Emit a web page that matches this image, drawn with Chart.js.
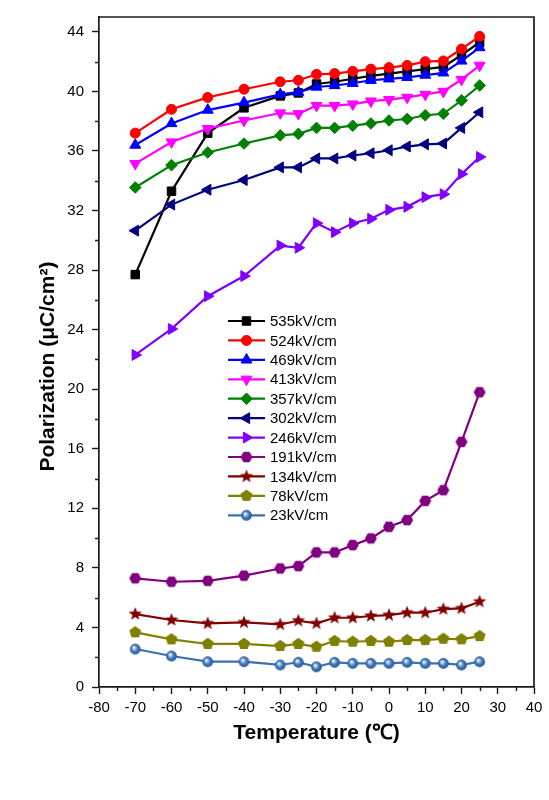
<!DOCTYPE html>
<html><head><meta charset="utf-8">
<script src="https://cdn.jsdelivr.net/npm/chart.js@4/dist/chart.umd.min.js"></script>
<style>html,body{margin:0;padding:0;background:#fff}#wrap{width:549px;height:800px}</style>
</head><body><div id="wrap"><canvas id="c" width="549" height="800"></canvas></div>
<script>
// ---- data ----
const temperatures = [-70, -60, -50, -40, -30, -25, -20, -15, -10, -5, 0, 5, 10, 15, 20, 25];
const seriesLabels = ['535kV/cm','524kV/cm','469kV/cm','413kV/cm','357kV/cm','302kV/cm','246kV/cm','191kV/cm','134kV/cm','78kV/cm','23kV/cm'];
const p535 = [27.7, 33.3, 37.2, 38.9, 39.7, 39.9, 40.5, 40.65, 40.85, 41.05, 41.2, 41.35, 41.5, 41.65, 42.45, 43.3];
const p524 = [37.2, 38.8, 39.6, 40.15, 40.65, 40.75, 41.15, 41.2, 41.35, 41.5, 41.6, 41.75, 42.0, 42.05, 42.85, 43.7];
const p469 = [36.4, 37.85, 38.75, 39.25, 39.8, 39.95, 40.3, 40.4, 40.55, 40.75, 40.85, 40.95, 41.1, 41.25, 42.05, 42.95];
const p413 = [35.15, 36.6, 37.5, 38.05, 38.55, 38.5, 39.05, 39.05, 39.15, 39.35, 39.45, 39.6, 39.8, 40.0, 40.8, 41.75];
const p357 = [33.55, 35.05, 35.9, 36.5, 37.05, 37.15, 37.55, 37.55, 37.7, 37.85, 38.05, 38.15, 38.4, 38.5, 39.4, 40.4];
const p302 = [30.65, 32.4, 33.4, 34.05, 34.9, 34.9, 35.5, 35.5, 35.7, 35.85, 36.05, 36.3, 36.45, 36.5, 37.55, 38.6];
const p246 = [22.3, 24.05, 26.25, 27.6, 29.65, 29.5, 31.15, 30.55, 31.15, 31.45, 32.05, 32.25, 32.9, 33.1, 34.45, 35.6];
const p191 = [7.3, 7.07, 7.13, 7.48, 7.96, 8.12, 9.04, 9.04, 9.53, 9.98, 10.76, 11.21, 12.5, 13.22, 16.46, 19.8];
const p134 = [4.9, 4.5, 4.27, 4.34, 4.2, 4.45, 4.27, 4.65, 4.65, 4.77, 4.83, 4.99, 4.99, 5.23, 5.28, 5.73];
const p78  = [3.67, 3.2, 2.89, 2.89, 2.75, 2.89, 2.7, 3.09, 3.04, 3.09, 3.04, 3.15, 3.15, 3.24, 3.2, 3.42];
const p23  = [2.55, 2.08, 1.7, 1.7, 1.48, 1.66, 1.36, 1.66, 1.59, 1.59, 1.59, 1.66, 1.59, 1.59, 1.48, 1.7];
const xTickValues = [-80, -70, -60, -50, -40, -30, -20, -10, 0, 10, 20, 30, 40];
const yTickValues = [0, 4, 8, 12, 16, 20, 24, 28, 32, 36, 40, 44];
const xTitle = 'Temperature (\u2103)';
const yTitle = 'Polarization (\u03BCC/cm\u00B2)';

const allSeries = [p535, p524, p469, p413, p357, p302, p246, p191, p134, p78, p23];

// ---- marker images ----
function mk(size, fn) {
  const c = document.createElement('canvas'); c.width = c.height = size;
  const g = c.getContext('2d'); fn(g, size / 2); return c;
}
function poly(g, cx, n, r, rot, inner) {
  g.beginPath();
  const pts = inner ? n * 2 : n;
  for (let i = 0; i < pts; i++) {
    const rr = inner ? (i % 2 ? inner : r) : r;
    const a = rot + i * 2 * Math.PI / pts;
    const x = cx + rr * Math.sin(a), y = cx - rr * Math.cos(a);
    i ? g.lineTo(x, y) : g.moveTo(x, y);
  }
  g.closePath();
}
const hexImg = mk(14, (g, c) => { poly(g, c, 6, 6, Math.PI / 6); g.fillStyle = '#800080'; g.fill(); });
const starImg = mk(16, (g, c) => { poly(g, c, 5, 7, 0, 3); g.fillStyle = '#800000'; g.fill(); });
const pentImg = mk(14, (g, c) => { poly(g, c, 5, 6.3, 0); g.fillStyle = '#808000'; g.fill(); });
const sphereImg = mk(13, (g, c) => {
  const gr = g.createRadialGradient(c - 1.5, c - 1.6, 0.3, c, c, 5.6);
  gr.addColorStop(0, '#ffffff'); gr.addColorStop(0.3, '#8fb2dd'); gr.addColorStop(0.6, '#3a6fb0'); gr.addColorStop(1, '#2b5d9c');
  g.beginPath(); g.arc(c, c, 5.4, 0, Math.PI * 2); g.fillStyle = gr; g.fill();
});

const styles = [
  {color: '#000000', ps: 'rect', r: 6, rot: 0},
  {color: '#ff0000', ps: 'circle', r: 5, rot: 0},
  {color: '#0000ff', ps: 'triangle', r: 6.3, rot: 0},
  {color: '#ff00ff', ps: 'triangle', r: 6.3, rot: 180},
  {color: '#008000', ps: 'rectRot', r: 5.8, rot: 0},
  {color: '#000080', ps: 'triangle', r: 6.3, rot: 270},
  {color: '#8000ff', ps: 'triangle', r: 6.3, rot: 90},
  {color: '#800080', ps: hexImg, r: 6, rot: 0},
  {color: '#800000', ps: starImg, r: 6, rot: 0},
  {color: '#808000', ps: pentImg, r: 6, rot: 0},
  {color: '#3a6fb0', ps: sphereImg, r: 6, rot: 0}
];

const datasets = allSeries.map((arr, i) => ({
  label: seriesLabels[i],
  data: arr.map((v, j) => ({x: temperatures[j], y: v})),
  order: allSeries.length - i,
  borderColor: styles[i].color,
  backgroundColor: styles[i].color,
  borderWidth: 2.2,
  pointStyle: styles[i].ps,
  pointRadius: styles[i].r,
  pointRotation: styles[i].rot,
  pointBorderWidth: 1,
  pointBorderColor: styles[i].color,
  pointBackgroundColor: styles[i].color,
  tension: 0,
  clip: false
}));

const AX = '#1a1a1a';
const FONT = '"Liberation Sans", Arial, sans-serif';

const framePlugin = {
  id: 'frame',
  afterDraw(chart) {
    const {ctx, chartArea: a, scales} = chart;
    ctx.save();
    ctx.strokeStyle = AX; ctx.lineWidth = 1.7;
    ctx.beginPath();
    ctx.moveTo(a.left, a.top); ctx.lineTo(a.right, a.top); ctx.lineTo(a.right, a.bottom);
    ctx.stroke();
    // minor ticks
    ctx.lineWidth = 1.4;
    ctx.beginPath();
    for (let v = -75; v < 40; v += 10) {
      const px = Math.round(scales.x.getPixelForValue(v)) + 0.5;
      ctx.moveTo(px, a.bottom); ctx.lineTo(px, a.bottom + 4);
    }
    for (let v = 2; v < 45; v += 4) {
      const py = Math.round(scales.y.getPixelForValue(v)) + 0.5;
      ctx.moveTo(a.left, py); ctx.lineTo(a.left - 4, py);
    }
    ctx.stroke();
    // legend
    const lx0 = 228, lx1 = 265, tx = 270, y0 = 321, dy = 19.43;
    ctx.font = '15px ' + FONT;
    ctx.textBaseline = 'middle'; ctx.textAlign = 'left';
    chart.data.datasets.forEach((ds, i) => {
      const y = y0 + i * dy;
      ctx.strokeStyle = ds.borderColor; ctx.lineWidth = 2.2;
      ctx.beginPath(); ctx.moveTo(lx0, y); ctx.lineTo(lx1, y); ctx.stroke();
      ctx.fillStyle = ds.backgroundColor; ctx.strokeStyle = ds.borderColor; ctx.lineWidth = 1;
      Chart.helpers.drawPoint(ctx, {pointStyle: ds.pointStyle, rotation: ds.pointRotation, radius: ds.pointRadius, borderWidth: 1}, (lx0 + lx1) / 2, y);
      ctx.fillStyle = '#000';
      ctx.fillText(ds.label, tx, y + 1);
    });
    ctx.restore();
  }
};

new Chart(document.getElementById('c'), {
  type: 'line',
  data: {datasets},
  plugins: [framePlugin],
  options: {
    responsive: false,
    devicePixelRatio: 1,
    animation: false,
    layout: {padding: {top: 15, right: 15, left: 0, bottom: 0}},
    plugins: {legend: {display: false}, tooltip: {enabled: false}},
    scales: {
      x: {
        type: 'linear', min: -80, max: 40,
        afterFit(s) { s.height = 113; },
        afterBuildTicks(s) { s.ticks = xTickValues.map(v => ({value: v})); },
        ticks: {stepSize: 10, color: '#000', font: {family: FONT, size: 15}, padding: 4.5, maxRotation: 0, autoSkip: false},
        grid: {drawOnChartArea: false, drawTicks: true, tickLength: 7, tickColor: AX, tickWidth: 1.4},
        border: {display: true, color: AX, width: 1.7},
        title: {display: true, text: xTitle, color: '#000', font: {family: FONT, size: 21, weight: 'bold'}, padding: {top: 0, bottom: 54.4}}
      },
      y: {
        type: 'linear', min: 0, max: 45,
        afterFit(s) { s.width = 99; },
        afterBuildTicks(s) { s.ticks = yTickValues.map(v => ({value: v})); },
        ticks: {stepSize: 4, color: '#000', font: {family: FONT, size: 15}, padding: 8, autoSkip: false},
        grid: {drawOnChartArea: false, drawTicks: true, tickLength: 7, tickColor: AX, tickWidth: 1.4},
        border: {display: true, color: AX, width: 1.7},
        title: {display: true, text: yTitle + '     ', color: '#000', font: {family: FONT, size: 21, weight: 'bold'}, padding: {top: 35.4, bottom: 0}}
      }
    }
  }
});
</script>
</body></html>
